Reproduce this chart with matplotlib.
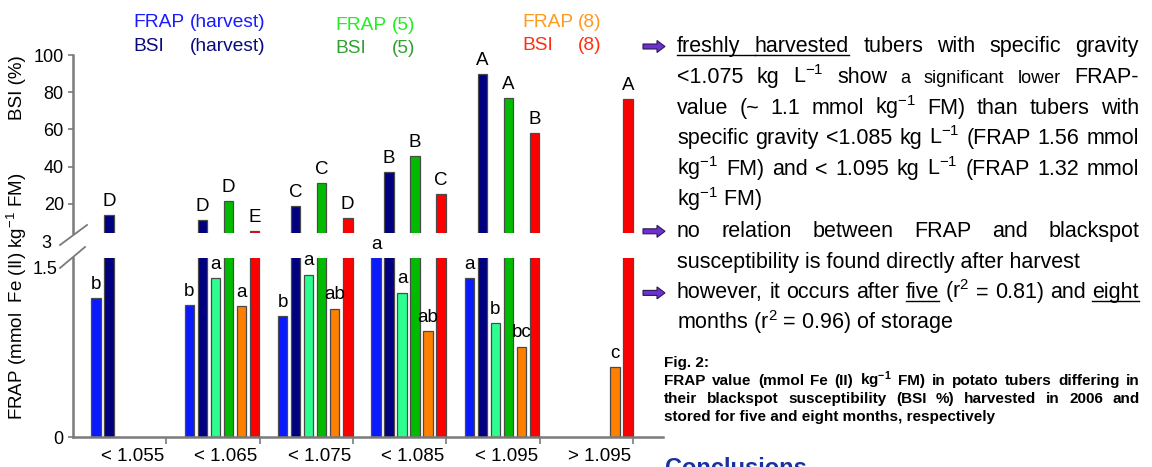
import numpy as np
import matplotlib
matplotlib.use('Agg')
import matplotlib.pyplot as plt
from matplotlib.patches import FancyArrow

plt.rcParams['font.family'] = ['Liberation Sans', 'DejaVu Sans']
plt.rcParams['mathtext.fontset'] = 'custom'
plt.rcParams['mathtext.rm'] = 'Liberation Sans'
plt.rcParams['mathtext.it'] = 'Liberation Sans:italic'
plt.rcParams['mathtext.bf'] = 'Liberation Sans:bold'

# specific gravity classes (kg L-1)
groups = ['< 1.055', '< 1.065', '< 1.075', '< 1.085', '< 1.095', '> 1.095']
nan = np.nan

# FRAP in mmol Fe(II) kg-1 FM, BSI in %
frap_harvest = [1.23, 1.17, 1.07, 1.60, 1.41, nan]
bsi_harvest = [14.1, 11.4, 18.9, 37.2, 89.8, nan]
frap_5 = [nan, 1.41, 1.44, 1.28, 1.01, nan]
bsi_5 = [nan, 21.6, 31.3, 45.8, 76.9, nan]
frap_8 = [nan, 1.16, 1.14, 0.94, 0.80, 0.62]
bsi_8 = [nan, 5.4, 12.5, 25.3, 58.1, 76.4]

# significance letters
sig_frap_harvest = ['b', 'b', 'b', 'a', 'a', '']
sig_bsi_harvest = ['D', 'D', 'C', 'B', 'A', '']
sig_frap_5 = ['', 'a', 'a', 'a', 'b', '']
sig_bsi_5 = ['', 'D', 'C', 'B', 'A', '']
sig_frap_8 = ['', 'a', 'ab', 'ab', 'bc', 'c']
sig_bsi_8 = ['', 'E', 'D', 'C', 'B', 'A']

series = [
    (frap_harvest, sig_frap_harvest, '#0a1aff', False),
    (bsi_harvest, sig_bsi_harvest, '#000080', True),
    (frap_5, sig_frap_5, '#2cff90', False),
    (bsi_5, sig_bsi_5, '#00bb00', True),
    (frap_8, sig_frap_8, '#ff8000', False),
    (bsi_8, sig_bsi_8, '#ff0000', True),
]

W, H = 1152, 467
fig = plt.figure(figsize=(W / 100, H / 100), dpi=100)
fig.patch.set_facecolor('white')

up = fig.add_axes([73 / W, 1 - 233 / H, 590 / W, 178 / H])
lo = fig.add_axes([73 / W, 1 - 437 / H, 590 / W, 179 / H])
pg = fig.add_axes([0, 0, 1, 1])
pg.set_xlim(0, W)
pg.set_ylim(H, 0)
pg.axis('off')

grey = '#7a7a7a'
x = np.arange(len(groups))
bw = 0.102
top_lo = 1.589

for j, (vals, sig, col, is_bsi) in enumerate(series):
    xs = x + 0.2465 + 0.1393 * j
    v = np.array(vals, dtype=float)
    lo.bar(xs, v, bw, color=col, edgecolor='#4a4a4a', linewidth=0.9)
    if is_bsi:
        up.bar(xs, v, bw, color=col, edgecolor='#4a4a4a', linewidth=0.9)
        ax = up
        yv = v
    else:
        ax = lo
        yv = np.minimum(v, top_lo)
    for xi, yi, s in zip(xs, yv, sig):
        if s:
            ax.annotate(s, (xi, yi), xytext=(0, 10), textcoords='offset points',
                        ha='center', va='center', fontsize=13.5, annotation_clip=False)

for ax in (up, lo):
    ax.set_xlim(0, 6.32)
    ax.patch.set_alpha(0)
    for s in ('top', 'right'):
        ax.spines[s].set_visible(False)
    ax.spines['left'].set_color(grey)
    ax.spines['left'].set_linewidth(1.8)
    ax.tick_params(axis='y', length=3.6, width=1.2, color=grey, pad=3, labelsize=13)

up.set_ylim(4.4, 100)
up.set_yticks([20, 40, 60, 80, 100])
up.spines['bottom'].set_visible(False)
up.set_xticks([])

lo.set_ylim(0, top_lo)
lo.set_yticks([0])
lo.spines['bottom'].set_color(grey)
lo.spines['bottom'].set_linewidth(1.8)
lo.set_xticks(np.arange(1, 7))
lo.set_xticklabels([])
lo.set_xticks(x + 0.64, minor=True)
lo.set_xticklabels(groups, minor=True)
lo.tick_params(axis='x', which='major', length=5, width=1.2, color=grey)
lo.tick_params(axis='x', which='minor', length=0, pad=8, labelsize=13.5)

# axis break marks and the labels that sit at them
pg.plot([60, 87], [245, 225], color=grey, lw=1.3)
pg.plot([60, 85], [268, 247], color=grey, lw=1.3)
pg.text(51, 243, '3', ha='right', va='center', fontsize=13)
pg.text(58, 270, '1.5', ha='right', va='center', fontsize=13)

pg.text(17, 88, 'BSI (%)', rotation=90, ha='center', va='center', fontsize=13.5)
pg.text(17, 296, 'FRAP (mmol  Fe (II) kg$^{-1}$ FM)', rotation=90,
        ha='center', va='center', fontsize=13.5)

# legend in colored text
legend = [
    (133, 190, 27, 'FRAP', '(harvest)', '#1a1aff'),
    (133, 190, 51, 'BSI', '(harvest)', '#0a0a80'),
    (335, 392, 30, 'FRAP', '(5)', '#22ee22'),
    (335, 392, 53, 'BSI', '(5)', '#33a033'),
    (522, 578, 27, 'FRAP', '(8)', '#ff9a20'),
    (522, 578, 50, 'BSI', '(8)', '#ff3010'),
]
for x0, x1, yb, a, b, c in legend:
    pg.text(x0, yb, a, color=c, fontsize=13.8, va='baseline')
    pg.text(x1, yb, b, color=c, fontsize=13.8, va='baseline')

renderer = fig.canvas.get_renderer()


def put_line(words, yb, x0, x1, size, weight='normal', justify=True):
    if not justify:
        pg.text(x0, yb, ' '.join(words), fontsize=size, fontweight=weight,
                va='baseline', ha='left')
        return
    ts, opts = [], []
    for w in words:
        if isinstance(w, tuple):
            w, o = w
        else:
            o = {}
        t = pg.text(x0, yb, w, fontsize=o.get('size', size), fontweight=weight,
                    va='baseline', ha='left')
        ts.append(t)
        opts.append(o)
    ws = [t.get_window_extent(renderer).width for t in ts]
    gap = (x1 - x0 - sum(ws)) / (len(ts) - 1)
    xs = []
    xc = x0
    for t, w in zip(ts, ws):
        t.set_x(xc)
        xs.append(xc)
        xc += w + gap
    for i, o in enumerate(opts):
        if o.get('ul'):
            end = xs[i] + ws[i]
            if i + 1 < len(opts) and opts[i + 1].get('ul'):
                end = xs[i + 1]
            pg.plot([xs[i], end], [yb + 3, yb + 3], color='black', lw=1)


ul = {'ul': True}
sm = {'size': 13}
body = [
    ([('freshly', ul), ('harvested', ul), 'tubers', 'with', 'specific', 'gravity'], True),
    (['<1.075', 'kg', 'L$^{-1}$', 'show', ('a', sm), ('significant', sm), ('lower', sm), 'FRAP-'], True),
    (['value', '(~', '1.1', 'mmol', 'kg$^{-1}$', 'FM)', 'than', 'tubers', 'with'], True),
    (['specific', 'gravity', '<1.085', 'kg', 'L$^{-1}$', '(FRAP', '1.56', 'mmol'], True),
    (['kg$^{-1}$', 'FM)', 'and', '<', '1.095', 'kg', 'L$^{-1}$', '(FRAP', '1.32', 'mmol'], True),
    (['kg$^{-1}$', 'FM)'], False),
    (['no', 'relation', 'between', 'FRAP', 'and', 'blackspot'], True),
    (['susceptibility', 'is', 'found', 'directly', 'after', 'harvest'], False),
    (['however,', 'it', 'occurs', 'after', ('five', ul), '(r$^2$', '=', '0.81)', 'and', ('eight', ul)], True),
    (['months', '(r$^2$', '=', '0.96)', 'of', 'storage'], False),
]
for k, (words, just) in enumerate(body):
    put_line(words, 52 + 30.8 * k, 677, 1139, 15.5, justify=just)

for k in (0, 6, 8):
    yc = 52 + 30.8 * k - 5.5
    pg.add_patch(FancyArrow(643, yc, 22, 0, width=5, head_width=12, head_length=8,
                            length_includes_head=True, fc='#7030d0', ec='#2a1a50', lw=0.8))

caption = [
    (367, ['Fig.', '2:'], False),
    (385, ['FRAP', 'value', '(mmol', 'Fe', '(II)', 'kg$^{\\mathbf{-1}}$', 'FM)', 'in', 'potato',
           'tubers', 'differing', 'in'], True),
    (403, ['their', 'blackspot', 'susceptibility', '(BSI', '%)', 'harvested', 'in', '2006', 'and'], True),
    (421, ['stored', 'for', 'five', 'and', 'eight', 'months,', 'respectively'], False),
]
for yb, words, just in caption:
    put_line(words, yb, 664, 1140, 11, weight='bold', justify=just)

pg.text(665, 475, 'Conclusions', fontsize=17, fontweight='bold', color='#1a30a0', va='baseline')

fig.savefig('out.png', dpi=100)
